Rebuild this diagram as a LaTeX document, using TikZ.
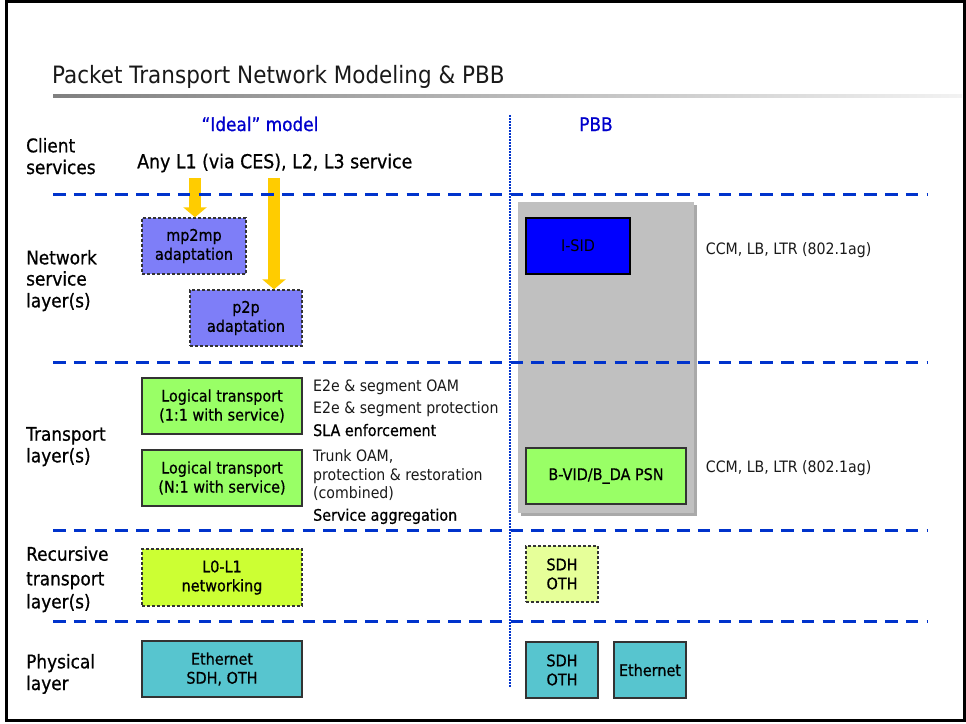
\documentclass[tikz,border=0pt]{standalone}
\usepackage{fontspec}
\setmainfont{DejaVu Sans}[FakeStretch=0.9]
\newfontfamily\heavy{DejaVu Sans}[FakeStretch=0.9, FakeBold=0.7]
\usetikzlibrary{arrows.meta}
\definecolor{divblue}{HTML}{0033CC}
\definecolor{hdrblue}{HTML}{0000CC}
\definecolor{arrowyellow}{HTML}{FFCC00}
\definecolor{mpblue}{HTML}{7E7EF8}
\definecolor{ltgreen}{HTML}{99FF66}
\definecolor{limegreen}{HTML}{CCFF33}
\definecolor{paleyellow}{HTML}{E6FF99}
\definecolor{teal}{HTML}{57C5CF}
\definecolor{pbbgray}{HTML}{C0C0C0}
\definecolor{pbbshadow}{HTML}{A9A9A9}
\definecolor{isidblue}{HTML}{0000FF}
\definecolor{boxedge}{HTML}{333333}
\definecolor{notegray}{HTML}{1A1A1A}
\begin{document}
\begin{tikzpicture}[x=1pt,y=-1pt,
  lbl/.style={anchor=base west, inner sep=0pt, font=\heavy\fontsize{18.8}{22}\selectfont},
  hdr/.style={anchor=base, inner sep=0pt, text=hdrblue, font=\heavy\fontsize{18.8}{22}\selectfont},
  note/.style={anchor=base west, inner sep=0pt, text=notegray, font=\fontsize{15.7}{19}\selectfont},
  heavynote/.style={note, text=black, font=\heavy\fontsize{15.9}{19}\selectfont},
  boxbase/.style={rectangle, draw=boxedge, line width=1.4pt, align=center, inner sep=0pt, font=\heavy\fontsize{16}{19}\selectfont},
  solidbox/.style={boxbase},
  dashbox/.style={boxbase, dash pattern=on 3pt off 2pt},
  divider/.style={draw=divblue, line width=3pt, dash pattern=on 12.5pt off 8.3pt},
  yarrow/.style={draw=arrowyellow, line width=12pt, -{Triangle[width=23pt,length=10pt]}}]
\useasboundingbox (0,0) rectangle (966,723);
\fill[white] (0,0) rectangle (966,723);

% title
\node[anchor=base west, inner sep=0pt, text=black!90, font=\fontsize{23.9}{28}\selectfont] (title) at (52,83) {Packet Transport Network Modeling \& PBB};
\shade[left color=black!50, right color=black!5] (53,94.5) rectangle (962,97.5);

% headers
\node[hdr] (ideal) at (260,131) {“Ideal” model};
\node[hdr] (pbb) at (596,131) {PBB};

% left labels
\node[lbl] (cl1) at (26,152.3) {Client};
\node[lbl] (cl2) at (26,174) {services};
\node[lbl] (ns1) at (26,264.3) {Network};
\node[lbl] (ns2) at (26,285.5) {service};
\node[lbl] (ns3) at (26,307.3) {layer(s)};
\node[lbl] (tl1) at (26,440.7) {Transport};
\node[lbl] (tl2) at (26,462.3) {layer(s)};
\node[lbl] (rt1) at (26,560.7) {Recursive};
\node[lbl] (rt2) at (26,585.3) {transport};
\node[lbl] (rt3) at (26,608.3) {layer(s)};
\node[lbl] (ph1) at (26,668.3) {Physical};
\node[lbl] (ph2) at (26,690) {layer};

\node[lbl, font=\heavy\fontsize{19.3}{22}\selectfont] (anysvc) at (137,168.3) {Any L1 (via CES), L2, L3 service};

% PBB gray block
\fill[pbbshadow] (521,205) rectangle (697,516);
\fill[pbbgray] (518,202) rectangle (694,513);

% ideal model boxes
\node[dashbox, fill=mpblue, minimum width=104pt, minimum height=56pt] (mp2mp) at (194,246) {mp2mp\\adaptation};
\node[dashbox, fill=mpblue, minimum width=112pt, minimum height=56pt] (p2p) at (246,318) {p2p\\adaptation};
\node[solidbox, fill=ltgreen, minimum width=160pt, minimum height=56pt] (lt1) at (222,406) {Logical transport\\(1:1 with service)};
\node[solidbox, fill=ltgreen, minimum width=160pt, minimum height=56pt] (ltn) at (222,478) {Logical transport\\(N:1 with service)};
\node[dashbox, fill=limegreen, minimum width=160pt, minimum height=57pt] (l0l1) at (222,577.5) {L0-L1\\networking};
\node[solidbox, fill=teal, minimum width=160pt, minimum height=56pt] (ethsdh) at (222,669) {Ethernet\\SDH, OTH};

% PBB boxes
\node[solidbox, draw=black, fill=isidblue, font=\fontsize{16}{19}\selectfont, minimum width=104pt, minimum height=56pt] (isid) at (578,246) {I-SID};
\node[solidbox, fill=ltgreen, minimum width=160pt, minimum height=56pt] (bvid) at (606,476) {B-VID/B\_DA PSN};
\node[dashbox, fill=paleyellow, minimum width=72pt, minimum height=56pt] (sdhrec) at (562,574) {SDH\\OTH};
\node[solidbox, fill=teal, minimum width=72pt, minimum height=56pt] (sdhphy) at (562,670) {SDH\\OTH};
\node[solidbox, fill=teal, minimum width=72pt, minimum height=56pt] (ethphy) at (650,670) {Ethernet};

% notes
\node[note] (n1) at (313,391.3) {E2e \& segment OAM};
\node[note] (n2) at (313,413.7) {E2e \& segment protection};
\node[heavynote] (n3) at (313,436) {SLA enforcement};
\node[note] (n4) at (313,461.7) {Trunk OAM,};
\node[note] (n5) at (313,480.7) {protection \& restoration};
\node[note] (n6) at (313,498.3) {(combined)};
\node[heavynote] (n7) at (313,520.7) {Service aggregation};
\node[note] (ccm1) at (705.7,254) {CCM, LB, LTR (802.1ag)};
\node[note] (ccm2) at (705.7,472.7) {CCM, LB, LTR (802.1ag)};

% yellow arrows
\coordinate (a1) at (195,178);
\coordinate (a2) at (274,178);
\draw[yarrow] (a1) -- (a1 |- mp2mp.north);
\draw[yarrow] (a2) -- (a2 |- p2p.north);

% layer dividers
\draw[divider] (53,194) -- (927,194);
\draw[divider] (53,362) -- (927,362);
\draw[divider] (53,530) -- (927,530);
\draw[divider] (53,621) -- (927,621);

% vertical dotted separator
\draw[divblue, line width=2.5pt, dash pattern=on 1.6pt off 1.4pt] (510,115) -- (510,687);

% frame
\draw[black, line width=3pt] (6.7,1.5) rectangle (964,720.5);
\end{tikzpicture}
\end{document}
